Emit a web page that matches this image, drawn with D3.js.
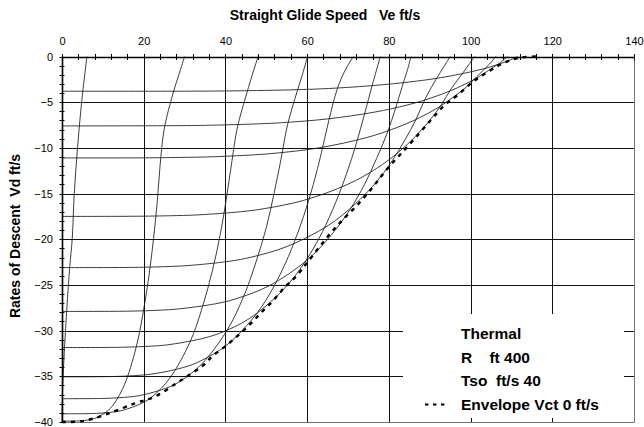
<!DOCTYPE html>
<html><head><meta charset="utf-8">
<script src="https://cdn.jsdelivr.net/npm/d3@7"></script>
<style>body{margin:0;background:#fff}svg{display:block;font-family:"Liberation Sans",Arial,sans-serif}text{white-space:pre}</style>
</head><body><svg id="c" width="644" height="427"></svg>
<script>
// ---- data (Ve ft/s, Vd ft/s) ----
const xTicks = [0,20,40,60,80,100,120,140];
const yTicks = [0,-5,-10,-15,-20,-25,-30,-35,-40];
const envelope = [[0,-40],[5,-39.9],[10.6,-39.2],[17.9,-37.95],[22.8,-37.2],[27.9,-35.8],[30.6,-35.0],[34.3,-33.9],[36.8,-32.8],[40.0,-31.7],[42.9,-30.6],[45.8,-29.4],[48.6,-28.1],[51.5,-26.8],[54.4,-25.3],[57.2,-24.1],[60.1,-22.5],[65.8,-19.3],[69.1,-17.7],[72.4,-16.2],[75.7,-14.5],[78.5,-12.9],[81.6,-11.3],[84.7,-9.8],[90.4,-6.9],[93.7,-5.3],[96.9,-4.2],[100.2,-2.9],[103.1,-2.0],[106.4,-1.1],[109.2,-0.5],[112.5,-0.1],[116,0]];
const cA = [[0,-3.8],[37.6,-3.78],[56.1,-3.65],[66.6,-3.47],[78.8,-3.08],[86.7,-2.7],[92.7,-2.32],[97.4,-1.93],[101.3,-1.55],[104.6,-1.17],[107.3,-0.78],[109.7,-0.39],[111.6,0]];
const cB = [[0,-7.6],[30.8,-7.56],[36.6,-7.52],[48.1,-7.37],[54.6,-7.22],[64.8,-6.84],[76.6,-6.08],[84.4,-5.32],[90.2,-4.56],[94.8,-3.8],[98.6,-3.04],[101.8,-2.28],[104.4,-1.52],[107.0,-0.76],[109.1,0]];
const cC = [[0,-11.1],[20.0,-11.09],[29.9,-11.04],[35.6,-10.99],[46.8,-10.77],[53.0,-10.55],[63.0,-9.99],[74.5,-8.88],[82.0,-7.77],[87.7,-6.66],[92.2,-5.55],[95.8,-4.44],[99.0,-3.33],[101.5,-2.22],[104.0,-1.11],[105.2,-0.56],[106.1,0]];
const cD = [[0,-17.5],[18.8,-17.48],[28.1,-17.41],[33.4,-17.33],[43.9,-16.98],[49.8,-16.63],[59.1,-15.75],[69.9,-14.0],[77.0,-12.25],[82.3,-10.5],[86.5,-8.75],[90.0,-7.0],[92.9,-5.25],[95.3,-3.5],[98.2,-1.75],[99.6,-0.88],[101.0,0]];
const cE = [[0,-23.1],[17.5,-23.08],[26.2,-22.98],[31.1,-22.87],[40.9,-22.41],[46.4,-21.95],[55.1,-20.79],[65.2,-18.48],[71.7,-16.17],[76.7,-13.86],[80.6,-11.55],[83.8,-9.24],[86.6,-6.93],[88.9,-4.62],[91.8,-2.31],[93.4,-1.16],[95.0,0]];
const cF = [[0,-27.9],[16.1,-27.87],[24.1,-27.76],[28.6,-27.62],[37.6,-27.06],[42.6,-26.51],[50.6,-25.11],[59.9,-22.32],[65.9,-19.53],[70.5,-16.74],[74.1,-13.95],[77.0,-11.16],[79.6,-8.37],[81.7,-5.58],[83.6,-2.79],[84.6,-1.4],[85.4,0]];
const cG = [[0,-31.85],[14.5,-31.82],[21.8,-31.7],[25.9,-31.55],[34.0,-30.9],[38.6,-30.28],[45.8,-28.7],[54.2,-25.5],[59.7,-22.33],[63.8,-19.14],[67.0,-15.95],[69.7,-12.76],[72.0,-9.57],[74.0,-6.38],[75.9,-3.19],[76.9,-1.6],[77.9,0]];
const cH = [[0,-35.05],[12.8,-35.02],[19.2,-34.88],[22.8,-34.7],[30.0,-34.0],[34.0,-33.3],[40.4,-31.55],[47.8,-28.05],[52.6,-24.55],[56.2,-21.04],[59.1,-17.53],[61.5,-14.02],[63.5,-10.52],[65.3,-7.01],[67.4,-3.51],[69.2,-1.6],[71.3,0]];
const cI = [[0,-37.45],[10.8,-37.41],[16.2,-37.27],[19.3,-37.08],[25.3,-36.33],[28.8,-35.58],[34.1,-33.7],[40.4,-29.96],[44.5,-26.22],[47.5,-22.47],[50.0,-18.73],[51.9,-14.98],[53.6,-11.24],[55.2,-7.49],[57.6,-3.75],[58.9,-1.88],[60.1,0]];
const cJ = [[0,-39.1],[8.4,-39.06],[12.6,-38.9],[14.9,-38.71],[19.6,-37.93],[22.3,-37.15],[26.4,-35.19],[31.3,-31.28],[34.4,-27.37],[36.8,-23.46],[38.7,-19.55],[40.2,-15.64],[41.5,-11.73],[42.9,-7.82],[45.3,-3.91],[46.6,-1.96],[48.0,0]];
const cK = [[0,-39.9],[4.9,-39.86],[7.3,-39.7],[8.6,-39.5],[11.4,-38.7],[12.9,-37.9],[15.3,-35.91],[18.1,-31.92],[19.9,-27.93],[21.3,-23.94],[22.4,-19.95],[23.3,-15.96],[24.0,-11.97],[25.0,-7.98],[27.2,-3.99],[28.6,-2.0],[30.0,0]];
const cL = [[0,-40],[0.1,-37],[0.6,-32],[1.2,-27.5],[1.9,-23],[2.5,-20],[3.0,-15],[3.8,-10],[4.8,-5],[6.1,0]];
const curves = [cA,cB,cC,cD,cE,cF,cG,cH,cI,cJ,cK,cL];
const legendLines = ["Thermal","R    ft 400","Tso  ft/s 40","Envelope Vct 0 ft/s"];

// ---- drawing ----
const svg = d3.select("#c");
const x = d3.scaleLinear().domain([0,140]).range([62,634]);
const y = d3.scaleLinear().domain([0,-40]).range([56.5,422]);
const cr = v => Math.round(v)+0.5;

const g = svg.append("g");
g.selectAll(".hg").data(d3.range(-5,-36,-5)).join("line")
  .attr("x1",x(0)).attr("x2",x(140)).attr("y1",d=>cr(y(d))).attr("y2",d=>cr(y(d)))
  .attr("stroke","#111").attr("stroke-width",1);
g.selectAll(".vg").data(d3.range(20,121,20)).join("line")
  .attr("x1",d=>cr(x(d))).attr("x2",d=>cr(x(d))).attr("y1",y(0)).attr("y2",y(-40))
  .attr("stroke","#111").attr("stroke-width",1);
g.append("line").attr("x1",cr(x(140))).attr("x2",cr(x(140))).attr("y1",y(0)).attr("y2",cr(y(-40))).attr("stroke","#777");
g.append("line").attr("x1",x(0)).attr("x2",cr(x(140))).attr("y1",cr(y(-40))).attr("y2",cr(y(-40))).attr("stroke","#777");

const line = d3.line().x(d=>x(d[0])).y(d=>y(d[1])).curve(d3.curveCatmullRom.alpha(0.5));
g.selectAll(".cv").data(curves).join("path").attr("d",line)
  .attr("fill","none").attr("stroke","#1a1a1a").attr("stroke-width",0.85);
g.append("path").datum(envelope).attr("d",line).attr("fill","none")
  .attr("stroke","#000").attr("stroke-width",2.4).attr("stroke-dasharray","4,5");

const lg = svg.append("g");
lg.append("rect").attr("x",403).attr("y",314).attr("width",221).attr("height",104).attr("fill","#fff");
lg.selectAll("text").data(legendLines).join("text")
  .attr("x",461).attr("y",(d,i)=>339+i*23.6).attr("font-size",15.5).attr("font-weight","bold").text(d=>d);
lg.append("line").attr("x1",425).attr("x2",446).attr("y1",404.5).attr("y2",404.5)
  .attr("stroke","#000").attr("stroke-width",1.8).attr("stroke-dasharray","3.4,4.6");

const ax = svg.append("g").attr("transform",`translate(0,${cr(y(0))})`)
  .call(d3.axisTop(x).tickValues(xTicks).tickSize(0).tickPadding(12.5));
ax.select(".domain").remove();
ax.selectAll("text").attr("font-size",11).attr("font-family","Liberation Sans, Arial, sans-serif");
svg.append("line").attr("x1",x(0)).attr("x2",x(140)+1).attr("y1",cr(y(0))).attr("y2",cr(y(0))).attr("stroke","#000").attr("stroke-width",1.6);
svg.selectAll(".tt").data(d3.range(0,141,4)).join("line")
  .attr("x1",d=>cr(x(d))).attr("x2",d=>cr(x(d))).attr("y1",cr(y(0))-3.5).attr("y2",cr(y(0))+2.5)
  .attr("stroke","#000");
svg.selectAll(".tm").data(xTicks).join("line")
  .attr("x1",d=>cr(x(d))).attr("x2",d=>cr(x(d))).attr("y1",cr(y(0))-3.5).attr("y2",cr(y(0))+3)
  .attr("stroke","#000");

const ay = svg.append("g").attr("transform",`translate(${cr(x(0))},0)`)
  .call(d3.axisLeft(y).tickValues(yTicks).tickSize(0).tickPadding(9.5));
ay.select(".domain").remove();
ay.selectAll("text").attr("font-size",11).attr("font-family","Liberation Sans, Arial, sans-serif");
svg.append("line").attr("x1",cr(x(0))).attr("x2",cr(x(0))).attr("y1",y(0)).attr("y2",y(-40)+1).attr("stroke","#000").attr("stroke-width",1.6);
svg.selectAll(".lt").data(d3.range(0,-41,-1)).join("line")
  .attr("x1",cr(x(0))-3).attr("x2",d=>cr(x(0))+(d%5===0?1:2)).attr("y1",d=>cr(y(d))).attr("y2",d=>cr(y(d)))
  .attr("stroke","#000");

svg.append("text").attr("x",325).attr("y",20).attr("text-anchor","middle")
  .attr("font-size",14).attr("font-weight","bold").text("Straight Glide Speed   Ve ft/s");
svg.append("text").attr("transform","translate(20,236) rotate(-90)").attr("text-anchor","middle")
  .attr("font-size",14).attr("font-weight","bold").text("Rates of Descent  Vd ft/s");
</script></body></html>
